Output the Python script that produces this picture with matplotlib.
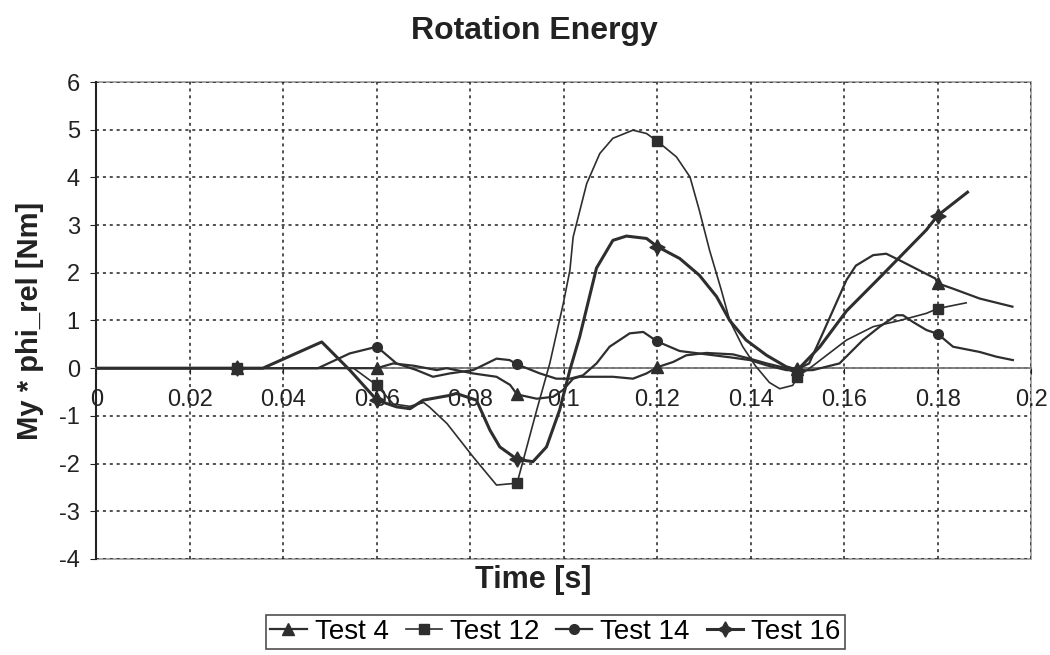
import matplotlib.pyplot as plt
from matplotlib.patches import Rectangle
import numpy as np

plt.rcParams['font.family'] = ['Liberation Sans', 'DejaVu Sans']
plt.rcParams['axes.unicode_minus'] = False

# Test 4
t4_x = [0, 0.03, 0.06, 0.0635, 0.068, 0.0728, 0.0749, 0.0806, 0.0856, 0.0885, 0.09,
        0.0942, 0.0977, 0.0998, 0.102, 0.1034, 0.1105, 0.1148, 0.1177, 0.12, 0.1234,
        0.1262, 0.1305, 0.1362, 0.1398, 0.1434, 0.1476, 0.15, 0.1525, 0.1555, 0.1605,
        0.1625, 0.1662, 0.169, 0.1719, 0.1761, 0.1795, 0.18, 0.1832, 0.189, 0.196]
t4_y = [0, 0, 0.0, 0.1, 0.05, -0.04, 0.0, -0.11, -0.18, -0.35, -0.55,
        -0.64, -0.6, -0.46, -0.22, -0.18, -0.18, -0.22, -0.11, 0.02, 0.13,
        0.27, 0.32, 0.29, 0.2, 0.1, 0.0, -0.02, 0.1, 0.75, 1.85,
        2.15, 2.37, 2.4, 2.26, 2.05, 1.88, 1.78, 1.67, 1.46, 1.29]

# Test 12
t12_x = [0, 0.03, 0.055, 0.06, 0.0635, 0.067, 0.07, 0.0713, 0.075, 0.0806, 0.0856,
         0.09, 0.0942, 0.097, 0.0999, 0.1013, 0.102, 0.1049, 0.1077, 0.1105, 0.1148,
         0.1177, 0.12, 0.1241, 0.127, 0.129, 0.1312, 0.1337, 0.1355, 0.1383, 0.141,
         0.144, 0.1462, 0.149, 0.15, 0.1533, 0.1605, 0.1662, 0.1719, 0.1776, 0.18, 0.1861]
t12_y = [0, 0, 0, -0.36, -0.75, -0.8, -0.72, -0.82, -1.16, -1.86, -2.45,
         -2.41, -0.88, 0.1, 1.36, 2.05, 2.75, 3.87, 4.5, 4.82, 4.99,
         4.92, 4.76, 4.43, 4.01, 3.31, 2.47, 1.64, 1.0, 0.45, 0.05,
         -0.3, -0.43, -0.36, -0.18, 0.05, 0.59, 0.87, 1.0, 1.15, 1.25, 1.37]

# Test 14
t14_x = [0, 0.03, 0.0474, 0.0542, 0.06, 0.0642, 0.0685, 0.072, 0.0756, 0.0806, 0.0856,
         0.0884, 0.09, 0.0949, 0.0984, 0.1013, 0.1041, 0.107, 0.1098, 0.1141, 0.117,
         0.12, 0.1248, 0.1305, 0.1362, 0.1398, 0.1434, 0.1476, 0.15, 0.1533, 0.159,
         0.164, 0.1676, 0.1712, 0.1726, 0.1747, 0.1776, 0.18, 0.1833, 0.189, 0.1926, 0.1961]
t14_y = [0, 0, 0, 0.31, 0.45, 0.1, -0.04, -0.18, -0.11, -0.04, 0.2,
         0.17, 0.08, -0.11, -0.22, -0.22, -0.15, 0.1, 0.45, 0.73, 0.76,
         0.56, 0.36, 0.29, 0.22, 0.17, 0.06, -0.04, -0.05, -0.04, 0.1,
         0.59, 0.87, 1.11, 1.11, 0.97, 0.8, 0.72, 0.45, 0.34, 0.24, 0.17]

# Test 16
t16_x = [0, 0.03, 0.0356, 0.0482, 0.0542, 0.06, 0.0642, 0.0671, 0.0699, 0.0756, 0.077,
         0.0813, 0.0842, 0.0863, 0.09, 0.0934, 0.0963, 0.0991, 0.1013, 0.1034, 0.107,
         0.1105, 0.1134, 0.1177, 0.12, 0.1248, 0.129, 0.1327, 0.1355, 0.139, 0.1434,
         0.1476, 0.15, 0.1548, 0.1605, 0.1676, 0.1776, 0.18, 0.1864]
t16_y = [0, 0, 0, 0.55, -0.04, -0.67, -0.81, -0.85, -0.67, -0.57, -0.53,
         -0.67, -1.3, -1.65, -1.91, -1.96, -1.65, -0.88, -0.04, 0.66, 2.1,
         2.68, 2.77, 2.72, 2.55, 2.3, 1.95, 1.5, 1.0, 0.59, 0.27,
         0.03, -0.04, 0.45, 1.2, 1.9, 2.9, 3.2, 3.69]

series = [
    ("Test 4", t4_x, t4_y, '^', 8, 1.6),
    ("Test 12", t12_x, t12_y, 's', 7, 1.2),
    ("Test 14", t14_x, t14_y, 'o', 7, 1.6),
    ("Test 16", t16_x, t16_y, (4, 1, 0), 11, 2.2),
]

fig = plt.figure(figsize=(10.5, 6.55), dpi=100)
ax = fig.add_axes([0.0919, 0.1466, 0.8901, 0.7282])

for name, xs, ys, mk, ms, lw in series:
    xs = np.array(xs)
    k = xs / 0.03
    every = np.isclose(k, np.round(k)) & (xs > 0)
    ax.plot(xs, ys, color='#2e2e2e', lw=lw, marker=mk, markersize=ms,
            markevery=list(every), label=name, zorder=3)

ax.set_xlim(0, 0.2)
ax.set_ylim(-4, 6)
ax.set_xticks(np.arange(0, 0.201, 0.02))
ax.set_xticklabels(['0', '0.02', '0.04', '0.06', '0.08', '0.1', '0.12', '0.14',
                    '0.16', '0.18', '0.2'])
ax.set_yticks(np.arange(-4, 7, 1))
ax.grid(True, color='#222222', linestyle=(0, (2, 2.5)), lw=1.1)

ax.spines['bottom'].set_position(('data', 0))
ax.spines['bottom'].set_color('#777777')
ax.spines['bottom'].set_linewidth(1.3)
ax.spines['top'].set_visible(False)
ax.spines['right'].set_visible(False)
ax.spines['left'].set_color('#222222')
ax.spines['left'].set_linewidth(1.5)
ax.add_patch(Rectangle((0, 0), 1, 1, transform=ax.transAxes, fill=False,
                       edgecolor='#999999', lw=1.2, zorder=1, clip_on=False))

ax.tick_params(axis='x', direction='out', length=4, pad=11, labelsize=17,
               colors='#222222')
ax.tick_params(axis='y', direction='out', length=4, pad=8, labelsize=17,
               colors='#222222')

fig.text(0.509, 0.952, 'Rotation Energy', ha='center', va='center',
         fontsize=23, fontweight='bold', color='#222222')
fig.text(0.508, 0.114, 'Time [s]', ha='center', va='center',
         fontsize=22, fontweight='bold', color='#222222')
fig.text(0.029, 0.51, 'My * phi_rel [Nm]', ha='center', va='center',
         rotation=90, fontsize=21, fontweight='bold', color='#222222')

leg = fig.legend(loc='center', bbox_to_anchor=(0.529, 0.035), ncol=4,
                 fontsize=20, frameon=True, fancybox=False, edgecolor='#222222',
                 handlelength=1.3, handletextpad=0.3, columnspacing=0.6,
                 borderpad=0.15, borderaxespad=0)
leg.get_frame().set_linewidth(1.2)

fig.savefig('out.png', dpi=100)
